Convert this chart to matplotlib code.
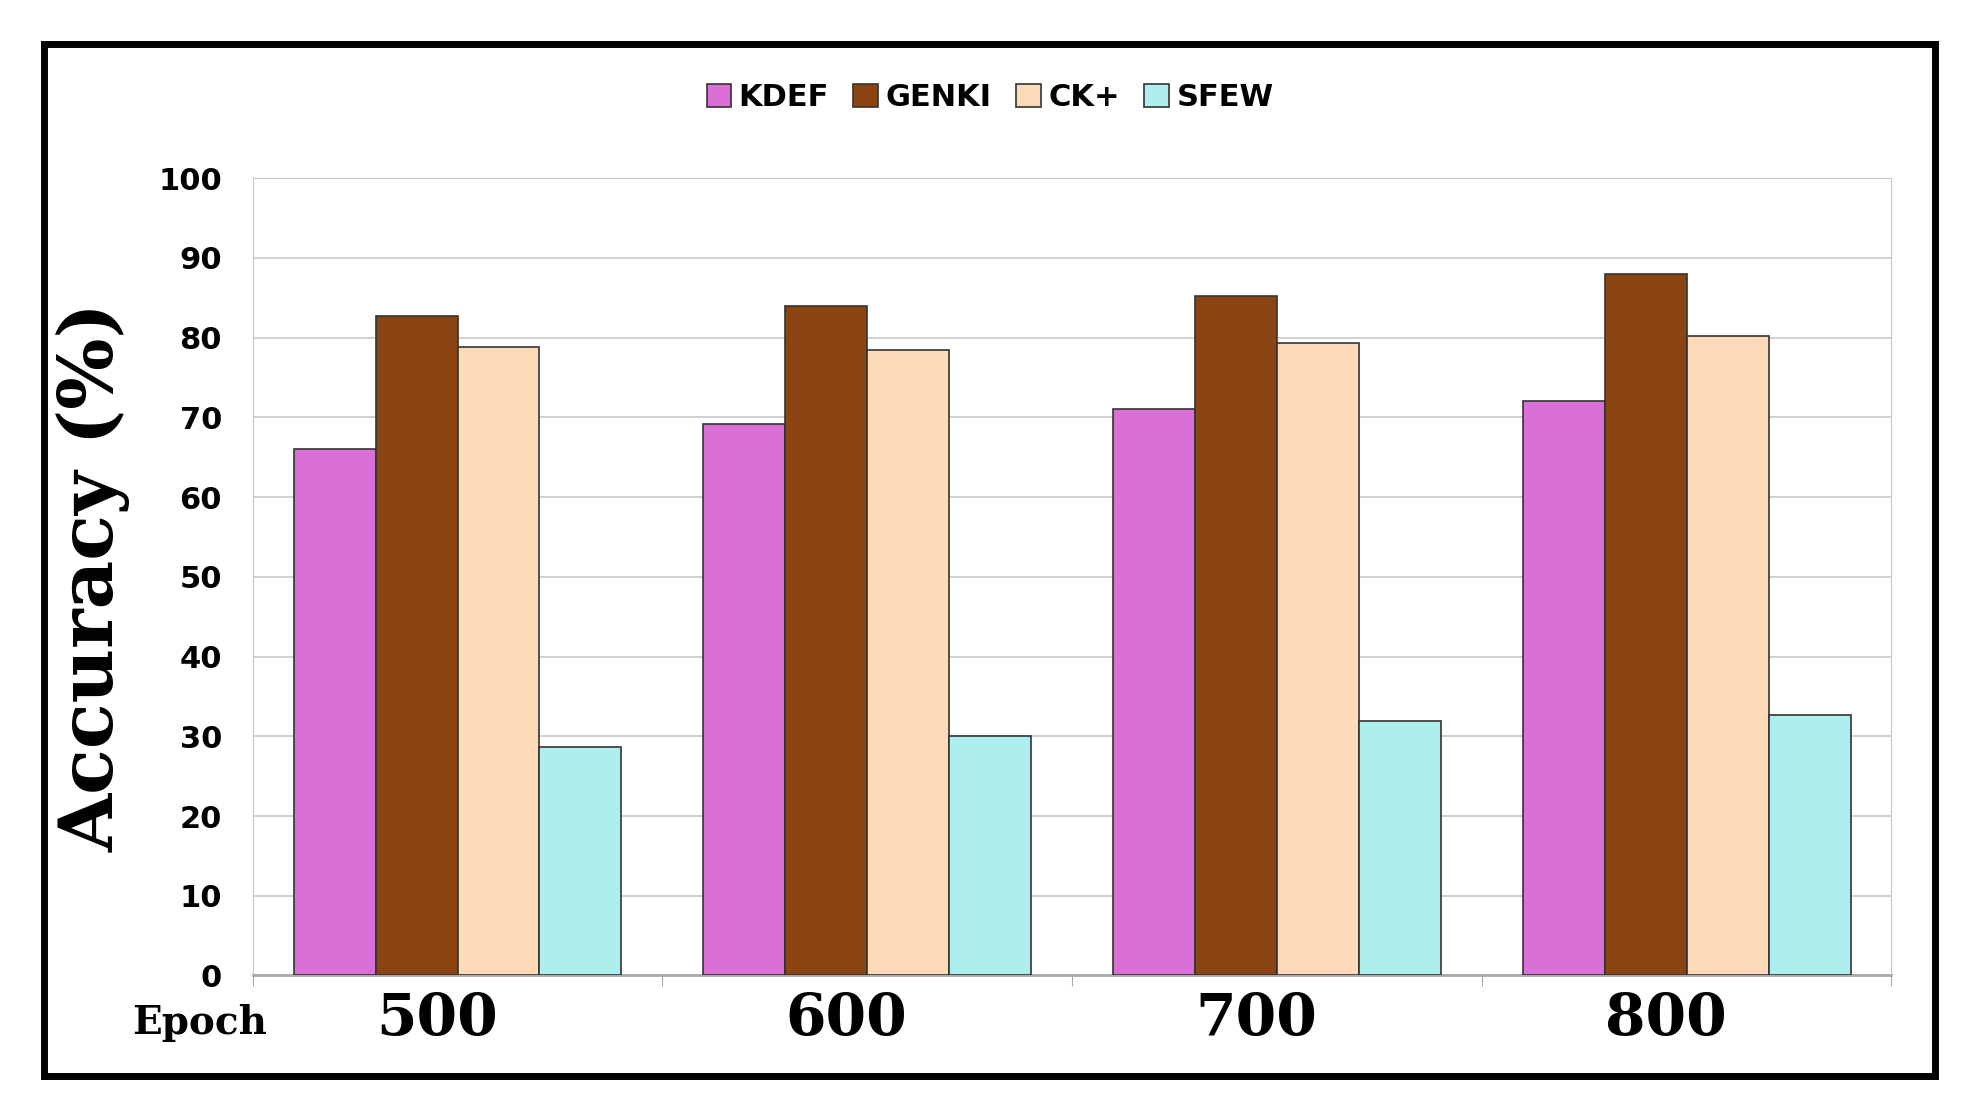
import numpy as np
import matplotlib.pyplot as plt
from matplotlib.patches import Rectangle

epochs = ["500", "600", "700", "800"]
series = ["KDEF", "GENKI", "CK+", "SFEW"]
kdef = [66.0, 69.2, 71.0, 72.0]
genki = [82.7, 84.0, 85.2, 88.0]
ckplus = [78.8, 78.5, 79.3, 80.2]
sfew = [28.7, 30.0, 31.9, 32.7]
colors = ["#da70d6", "#8b4513", "#ffdab9", "#afeeee"]

fig = plt.figure(figsize=(19.8, 11.06), dpi=100)
ax = fig.add_axes([0.1276, 0.118, 0.8277, 0.721])

x = np.arange(len(epochs))
w = 0.2
for i, (vals, c, name) in enumerate(zip([kdef, genki, ckplus, sfew], colors, series)):
    ax.bar(x + (i - 1.5) * w, vals, w, color=c, edgecolor="#333333", linewidth=1.2,
           label=name, zorder=3)

ax.set_xlim(-0.5, len(epochs) - 0.5)
ax.set_ylim(0, 100)
ax.set_yticks(range(0, 101, 10))
ax.set_yticks(range(0, 101, 5), minor=True)
ax.set_xticks(np.arange(-0.5, len(epochs), 1.0))
ax.set_xticklabels([])
ax.tick_params(axis="x", length=8, color="#aaaaaa")
ax.tick_params(axis="y", which="both", length=0, labelsize=22, pad=22)
for lab in ax.get_yticklabels():
    lab.set_fontweight("bold")
ax.grid(axis="y", color="#c8c8c8", linewidth=1.2, zorder=0)
for s in ax.spines.values():
    s.set_color("#c8c8c8")
ax.spines["bottom"].set_color("#aaaaaa")
ax.spines["bottom"].set_linewidth(2)

ax.set_ylabel("Accuracy (%)", family="DejaVu Serif", fontweight="bold",
              fontsize=54, labelpad=20)

for xi, e in zip(x, epochs):
    ax.text(xi - 0.05, -5.5, e, ha="center", va="center", transform=ax.transData,
            family="DejaVu Serif", fontweight="bold", fontsize=42)
ax.text(-0.63, -6, "Epoch", ha="center", va="center", family="DejaVu Serif",
        fontweight="bold", fontsize=28, clip_on=False)

fig.legend(loc="center", bbox_to_anchor=(0.5, 0.912), ncol=4, frameon=False,
           prop={"weight": "bold", "size": 22}, handlelength=0.8, handleheight=0.8,
           columnspacing=0.8, handletextpad=0.25)

fig.patches.append(Rectangle((0.0223, 0.027), 0.955, 0.933, transform=fig.transFigure,
                             fill=False, edgecolor="black", linewidth=5))

fig.savefig("out.png", dpi=100)
